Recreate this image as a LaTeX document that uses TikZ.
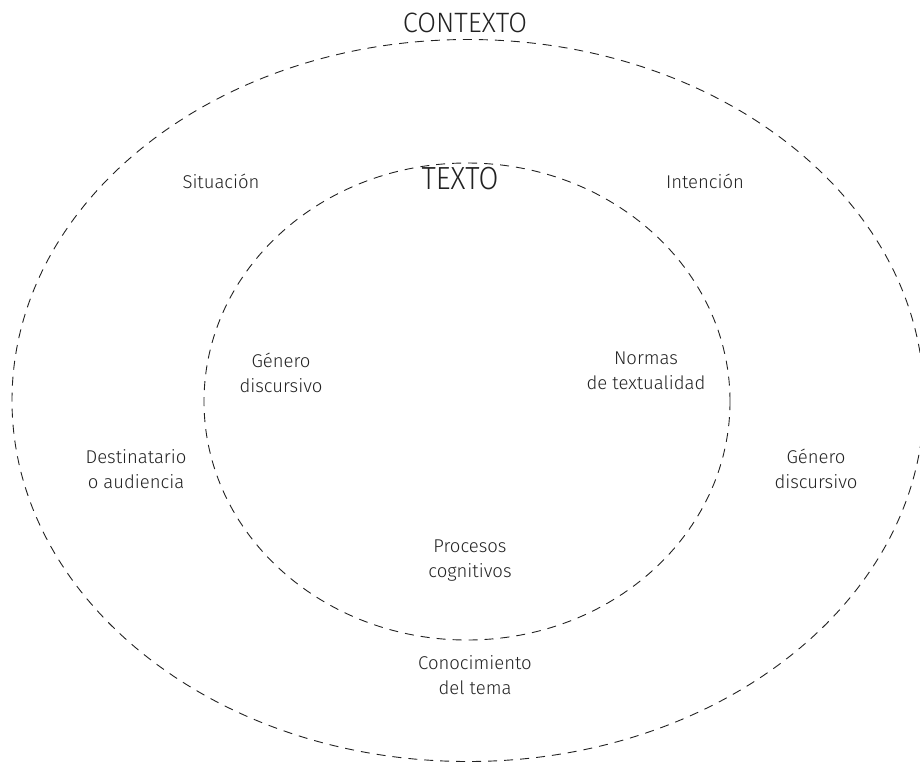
\documentclass[tikz,border=0pt]{standalone}
\usepackage{fontspec}
\setmainfont{Fira Sans Light}
\usetikzlibrary{shapes.geometric}
\definecolor{ink}{HTML}{222222}
\tikzset{
  ring/.style={ellipse, draw=ink, line width=0.9pt, dash pattern=on 9pt off 7pt, inner sep=0pt},
  label/.style={text=ink, font=\fontsize{18.5}{25}\selectfont, align=center, inner sep=0pt},
  title/.style={text=ink, inner sep=0pt}
}
\begin{document}
\begin{tikzpicture}[x=1pt,y=-1pt]
  \useasboundingbox (0,0) rectangle (920,763);
  % the two nested context rings
  \node[ring, minimum width=912pt, minimum height=722pt] (outer) at (468,400.5) {};
  \node[ring, minimum width=526pt, minimum height=477pt] (inner) at (467,401.5) {};
  % ring titles
  \node[title, font=\fontsize{28}{28}\selectfont] (contexto) at (465,22.5) {\scalebox{0.97}[1]{CONTEXTO}};
  \node[title, font=\fontsize{32}{32}\selectfont] (texto) at (460,179) {\scalebox{0.9}[1]{TEXTO}};
  % outer ring factors
  \node[label] (situacion) at (221,181) {Situación};
  \node[label] (intencion) at (705,181) {Intención};
  \node[label] (destinatario) at (136,469) {Destinatario\\o audiencia};
  \node[label] (generoout) at (816,469) {Género\\discursivo};
  \node[label] (conocimiento) at (475,675) {Conocimiento\\del tema};
  % inner ring factors
  \node[label] (generoin) at (281,373) {Género\\discursivo};
  \node[label] (normas) at (646,371) {Normas\\de textualidad};
  \node[label] (procesos) at (470,561) {Procesos\\cognitivos};
\end{tikzpicture}
\end{document}
